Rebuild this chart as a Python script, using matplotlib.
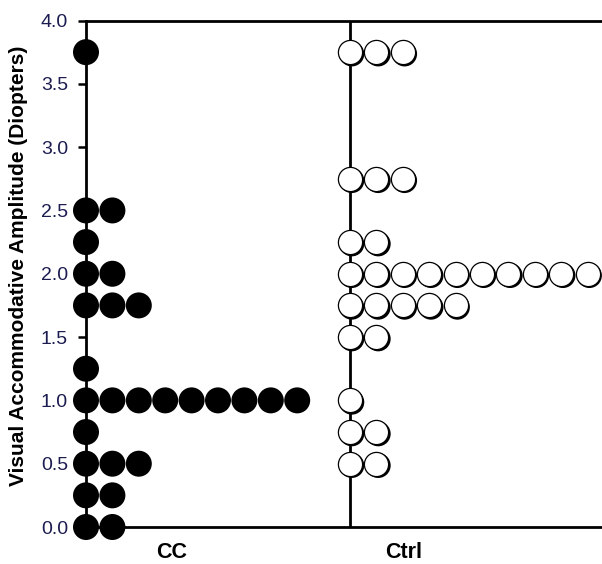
import matplotlib
matplotlib.use("Agg")
import matplotlib.pyplot as plt
from matplotlib.transforms import offset_copy
from collections import Counter

# ---- data ----
groups = ["CC", "Ctrl"]
cc_values = [3.75, 2.5, 2.5, 2.25, 2.0, 2.0, 1.75, 1.75, 1.75, 1.25,
             1.0, 1.0, 1.0, 1.0, 1.0, 1.0, 1.0, 1.0, 1.0, 0.75,
             0.5, 0.5, 0.5, 0.25, 0.25, 0.0, 0.0]
ctrl_values = [3.75, 3.75, 3.75, 2.75, 2.75, 2.75, 2.25, 2.25,
               2.0, 2.0, 2.0, 2.0, 2.0, 2.0, 2.0, 2.0, 2.0, 2.0,
               1.75, 1.75, 1.75, 1.75, 1.75, 1.5, 1.5, 1.0,
               0.75, 0.75, 0.5, 0.5]
yticks = [0.0, 0.5, 1.0, 1.5, 2.0, 2.5, 3.0, 3.5, 4.0]
ylabel = "Visual Accommodative Amplitude (Diopters)"

plt.rcParams['font.family'] = ['Liberation Sans', 'DejaVu Sans']

W, H = 602, 564
fig = plt.figure(figsize=(W / 100, H / 100), dpi=100)
ax = fig.add_axes([86 / W, (H - 527) / H, (W - 86) / W, (527 - 20.5) / H])

unit = 26.4  # px per dot step
xmax = (W - 86) / unit
ax.set_xlim(0, xmax)
ax.set_ylim(0, 4.0)

base = {"CC": 0.0, "Ctrl": 10.0}
msize = 26 * 0.72  # points

# Ctrl group axis line
ax.axvline(base["Ctrl"], color='black', lw=2, zorder=2)

# CC: black filled dots
cnt = Counter()
xs, ys = [], []
for v in cc_values:
    xs.append(base["CC"] + cnt[v])
    ys.append(v)
    cnt[v] += 1
ax.scatter(xs, ys, s=msize ** 2, c='black', edgecolors='none', zorder=4, clip_on=False)

# Ctrl: white dots with drop shadow
shadow_tr = offset_copy(ax.transData, fig=fig, x=1.8, y=-1.8, units='dots')
cnt = Counter()
z = 5
for v in ctrl_values:
    x = base["Ctrl"] + cnt[v]
    cnt[v] += 1
    ax.scatter([x], [v], s=(msize * 0.96) ** 2, c='black', edgecolors='none',
               transform=shadow_tr, zorder=z, clip_on=False)
    ax.scatter([x], [v], s=(msize * 0.93) ** 2, c='white', edgecolors='black',
               linewidths=0.9, zorder=z + 0.5, clip_on=False)
    z += 1

# spines
for s in ['left', 'top', 'bottom']:
    ax.spines[s].set_linewidth(2)
    ax.spines[s].set_zorder(2)
ax.spines['right'].set_visible(False)

ax.set_yticks(yticks)
ax.set_yticklabels([f"{t:.1f}" for t in yticks], fontsize=14, color='#1c1c50')
ax.tick_params(axis='y', direction='out', length=6, width=1.8, pad=7)

label_pos = [172 / unit - 86 / unit, 404 / unit - 86 / unit]
ax.set_xticks(label_pos)
ax.set_xticklabels(groups, fontsize=15.5, fontweight='bold')
ax.tick_params(axis='x', length=0, pad=11)

fig.text(19 / W, 1 - 266 / H, ylabel, rotation=90, fontsize=15,
         fontweight='bold', ha='center', va='center')

fig.savefig("out.png", dpi=100)
